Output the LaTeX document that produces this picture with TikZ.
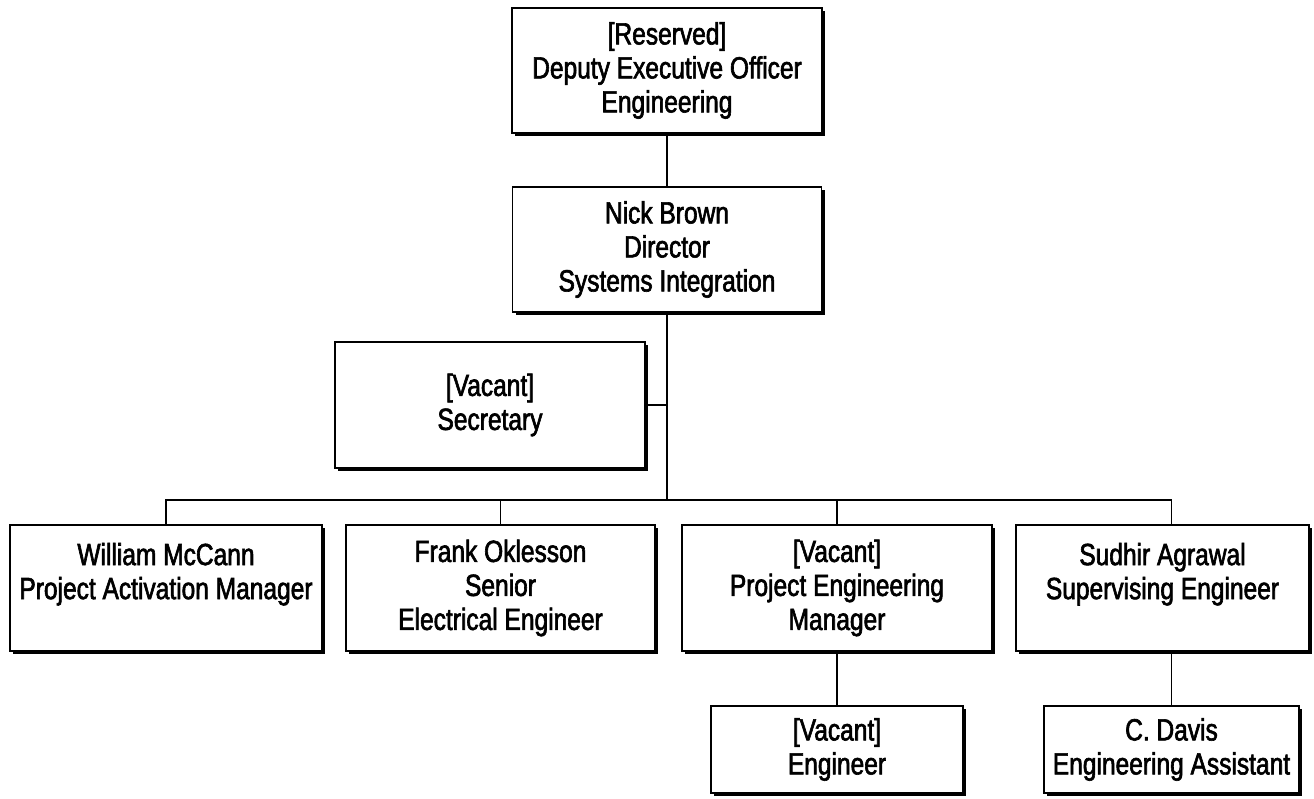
\documentclass[tikz,border=0pt]{standalone}
\usepackage{fontspec}
\setmainfont{Liberation Sans}[FakeStretch=0.8, FakeBold=2]
\usepackage{tikz}
\usetikzlibrary{positioning,calc,shadows}

\tikzset{
    post/.style={draw, line width=1.1pt, fill=white, align=center, inner sep=0pt,
        font=\fontsize{23}{25.5}\selectfont,
        drop shadow={shadow xshift=2.6pt, shadow yshift=-2.6pt, opacity=1, fill=black}},
    boxsize/.style 2 args={minimum width=#1*0.75pt, minimum height=#2*0.75pt},
    link/.style={line width=1.4pt}
}

\begin{document}
\begin{tikzpicture}[x=0.75pt, y=-0.75pt]
    \useasboundingbox (0, 0) rectangle (1314, 799);

    % Top of the chart
    \node [post, boxsize={310}{125}] (deo) at (667, 70.5) {[Reserved]\\Deputy Executive Officer\\Engineering};
    \node [post, boxsize={309}{125}] (dir) at (667, 249.5) {Nick Brown\\Director\\Systems Integration};
    \node [post, boxsize={310}{126}] (sec) at (490, 405) {[Vacant]\\Secretary};

    % Direct reports
    \node [post, boxsize={312}{126}] (wm) at (166, 588) {William McCann\\Project Activation Manager\\\mbox{}};
    \node [post, boxsize={309}{126}] (fo) at (500.5, 588) {Frank Oklesson\\Senior\\Electrical Engineer};
    \node [post, boxsize={310}{126}] (pem) at (837, 588) {[Vacant]\\Project Engineering\\Manager};
    \node [post, boxsize={293}{126}] (sa) at (1162.5, 588) {Sudhir Agrawal\\Supervising Engineer\\\mbox{}};

    % Second level
    \node [post, boxsize={252}{87}] (eng) at (837, 749.5) {[Vacant]\\Engineer};
    \node [post, boxsize={255}{87}] (cd) at (1171.5, 749.5) {C. Davis\\Engineering Assistant};

    % Lines
    \coordinate (bar) at (667, 500);
    \draw [link] (deo.south) -- (dir.north);
    \draw [link] (dir.south) -- (bar);
    \draw [link] (sec.east) -- (sec.east -| bar);
    \draw [link] (wm.north) |- (bar) -| (cd.north |- sa.north);
    \draw [link] (fo.north) -- (fo.north |- bar);
    \draw [link] (pem.north) -- (pem.north |- bar);
    \draw [link] (pem.south) -- (eng.north);
    \draw [link] (cd.north |- sa.south) -- (cd.north);
\end{tikzpicture}
\end{document}
